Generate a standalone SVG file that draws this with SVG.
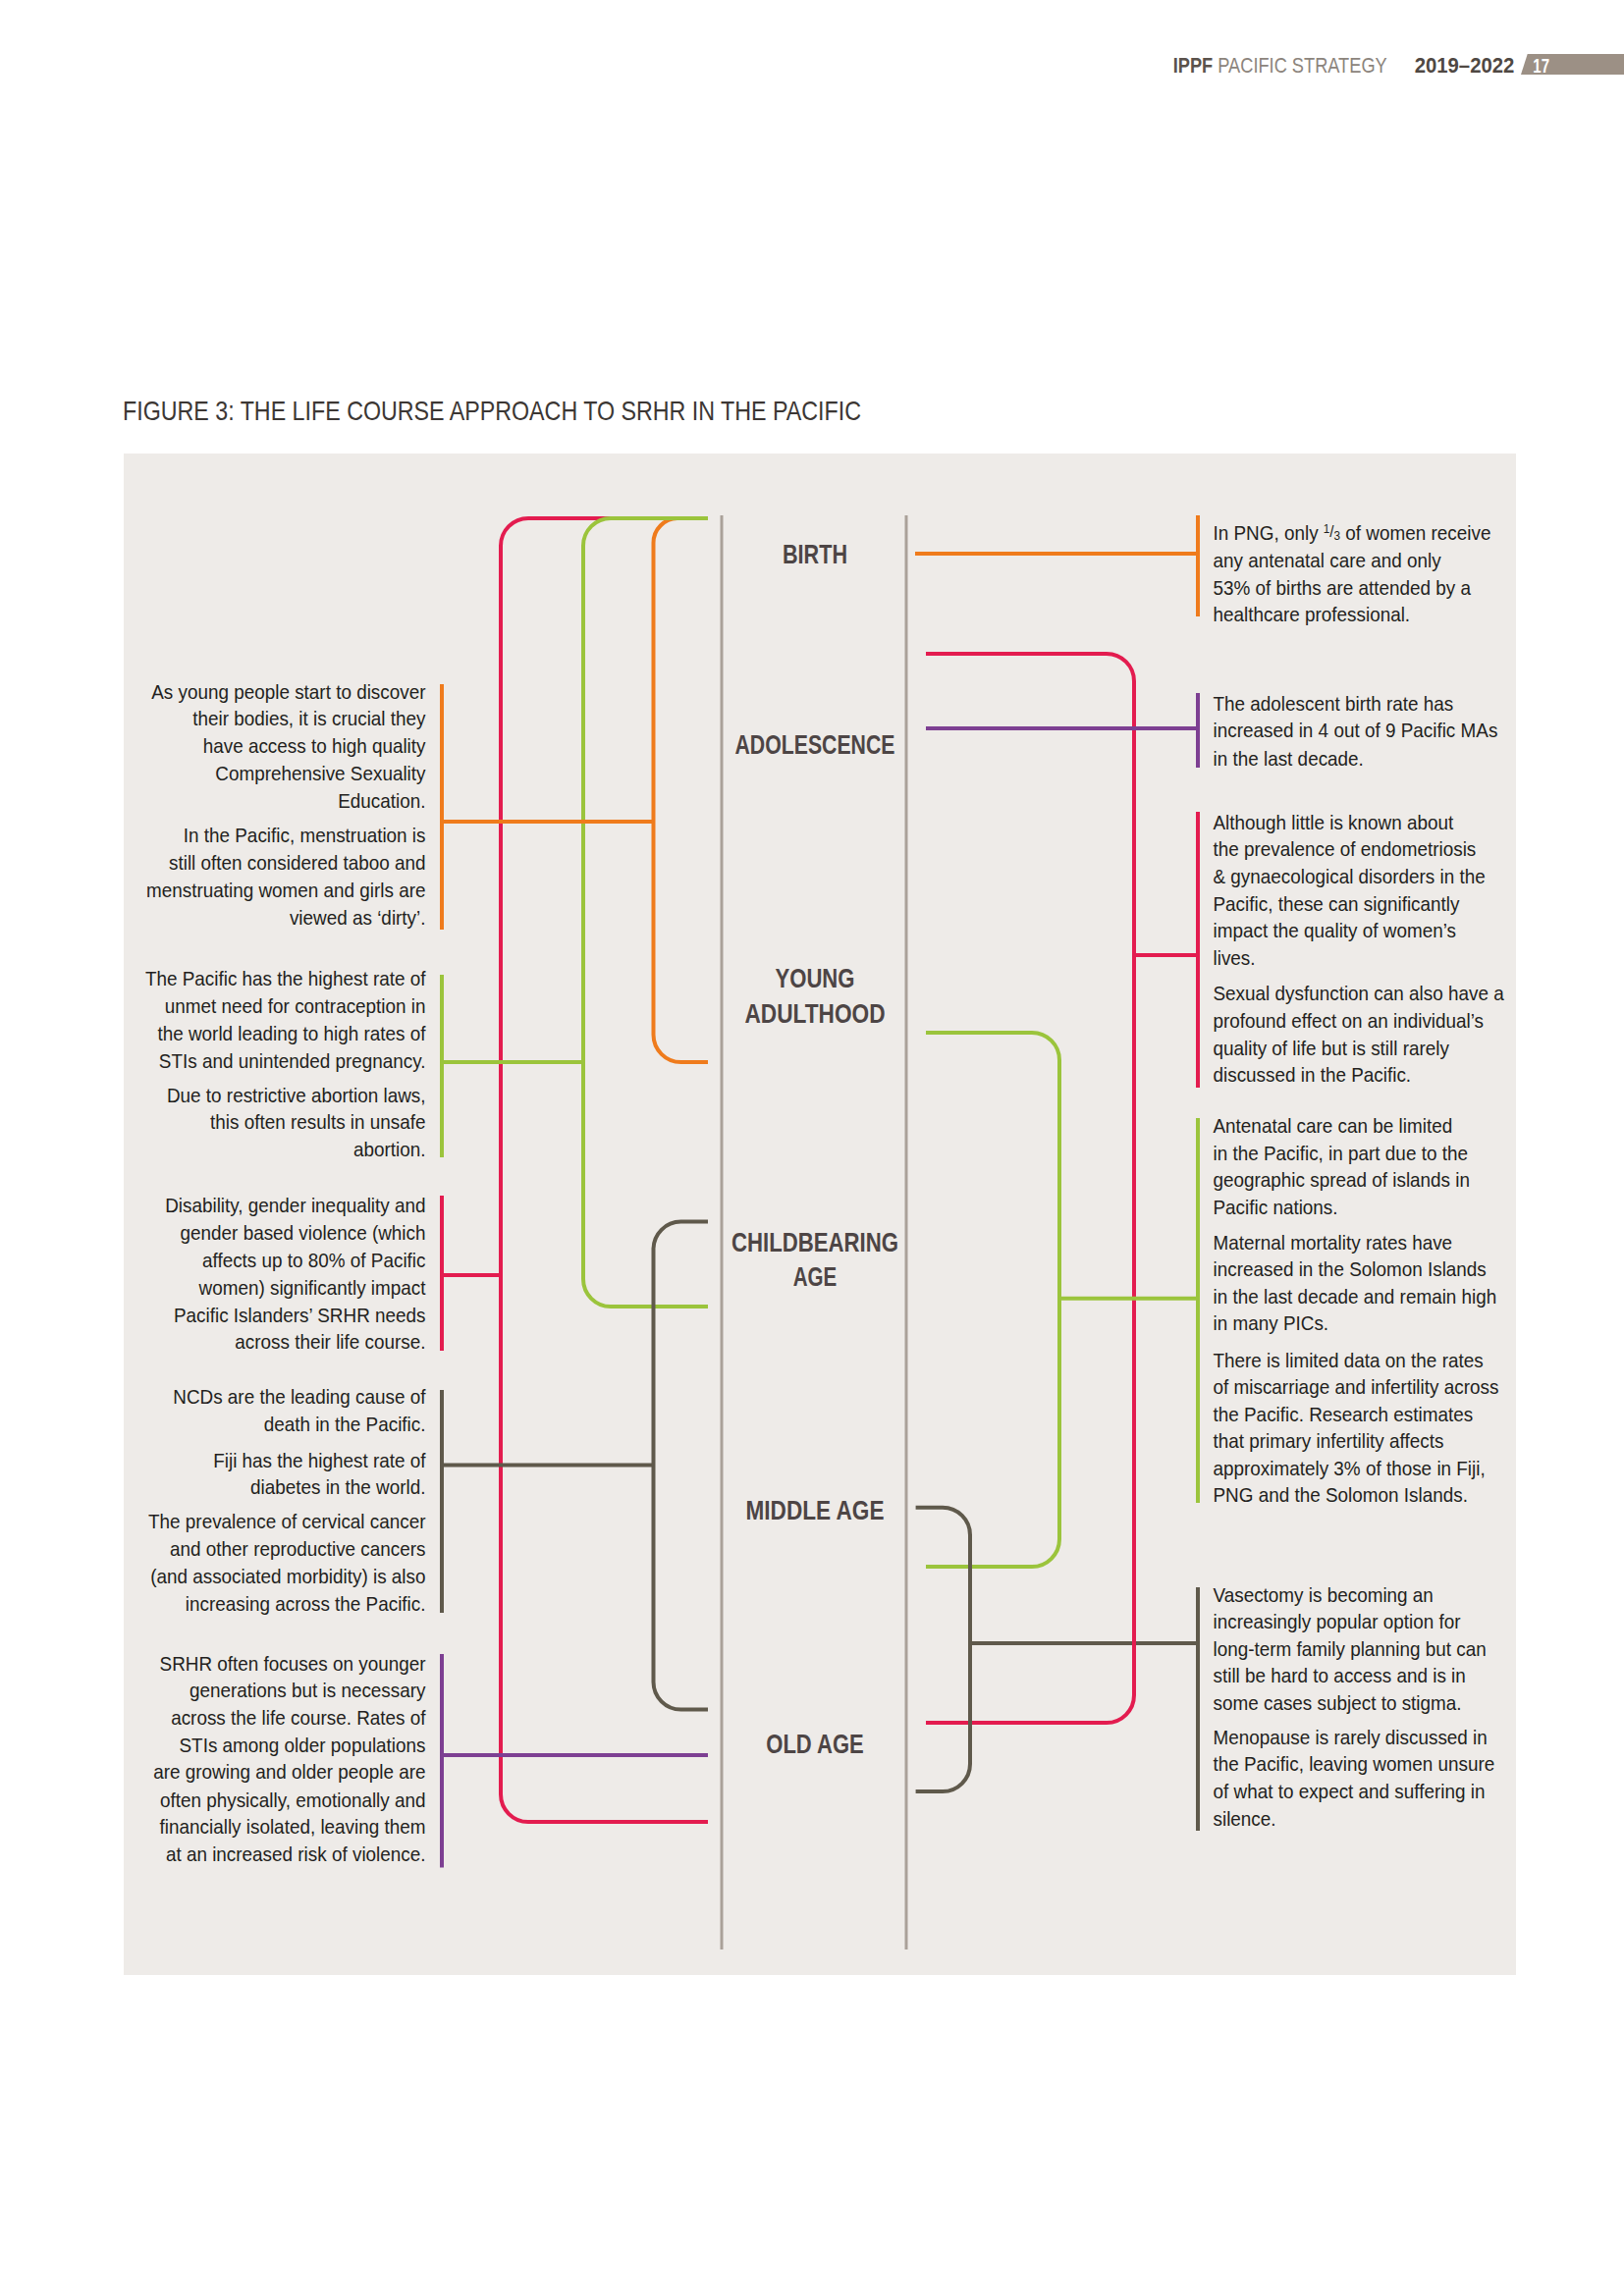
<svg xmlns="http://www.w3.org/2000/svg" width="1654" height="2339" viewBox="0 0 1654 2339">
<style>
.body{font-family:"Liberation Sans",Arial,sans-serif;font-size:21px;fill:#231f20}
.l{text-anchor:end}
.lab{font-family:"Liberation Sans",Arial,sans-serif;font-size:28px;font-weight:bold;fill:#4d4545;text-anchor:middle}
.ln{fill:none;stroke-width:4;stroke-linecap:butt}
.o{stroke:#ef7b1c}.r{stroke:#e31c4f}.g{stroke:#9bc43c}.p{stroke:#7d3f92}.d{stroke:#5f594b}
.tl{stroke:#aaa199;stroke-width:3;fill:none}
</style>
<rect width="1654" height="2339" fill="#ffffff"/>
<g id="header">
<text transform="translate(1194.7 74) scale(0.829 1)" font-family="'Liberation Sans',Arial,sans-serif" font-size="22"><tspan font-weight="bold" fill="#5a524c">IPPF</tspan><tspan fill="#8c847c"> PACIFIC STRATEGY</tspan></text>
<text transform="translate(1440.7 74) scale(0.923 1)" font-family="'Liberation Sans',Arial,sans-serif" font-size="22" font-weight="bold" fill="#4f4843">2019–2022</text>
<polygon points="1555.7,55 1654,55 1654,76 1549,76" fill="#9c9085"/>
<text transform="translate(1561.3 74) scale(0.75 1)" font-family="'Liberation Sans',Arial,sans-serif" font-size="20" font-weight="bold" fill="#ffffff">17</text>
</g>
<text id="title" x="125" y="428" font-family="'Liberation Sans',Arial,sans-serif" font-size="28" fill="#3c3734" textLength="752" lengthAdjust="spacingAndGlyphs">FIGURE 3: THE LIFE COURSE APPROACH TO SRHR IN THE PACIFIC</text>
<rect id="panel" x="126" y="462" width="1418" height="1550" fill="#eeebe8"/>
<g id="timeline">
<line class="tl" x1="735" y1="525" x2="735" y2="1986"/>
<line class="tl" x1="923" y1="525" x2="923" y2="1986"/>
</g>
<g id="stage-birth"><text class="lab" x="830" y="574" textLength="66" lengthAdjust="spacingAndGlyphs">BIRTH</text></g>
<g id="stage-adolescence"><text class="lab" x="830" y="768" textLength="163" lengthAdjust="spacingAndGlyphs">ADOLESCENCE</text></g>
<g id="stage-young-adulthood"><text class="lab" x="830" y="1006" textLength="81" lengthAdjust="spacingAndGlyphs">YOUNG</text><text class="lab" x="830" y="1042" textLength="143" lengthAdjust="spacingAndGlyphs">ADULTHOOD</text></g>
<g id="stage-childbearing"><text class="lab" x="830" y="1274.5" textLength="170" lengthAdjust="spacingAndGlyphs">CHILDBEARING</text><text class="lab" x="830" y="1310" textLength="44.5" lengthAdjust="spacingAndGlyphs">AGE</text></g>
<g id="stage-middle-age"><text class="lab" x="830" y="1547.5" textLength="141" lengthAdjust="spacingAndGlyphs">MIDDLE AGE</text></g>
<g id="stage-old-age"><text class="lab" x="830" y="1786" textLength="99.5" lengthAdjust="spacingAndGlyphs">OLD AGE</text></g>
<g id="connectors">
<!-- left side -->
<path class="ln r" d="M721,528 H538 A28,28 0 0 0 510,556 V1828 A28,28 0 0 0 538,1856 H721"/>
<path class="ln o" d="M721,528 H690 A25,25 0 0 0 665.5,553 V1054 A28,28 0 0 0 693.5,1082 H721"/>
<path class="ln g" d="M721,528 H622 A28,28 0 0 0 594,556 V1303 A28,28 0 0 0 622,1331 H721"/>
<path class="ln d" d="M721,1244.6 H693.5 A28,28 0 0 0 665.5,1272.6 V1713.6 A28,28 0 0 0 693.5,1741.6 H721"/>
<line class="ln o" x1="450" y1="837" x2="665.5" y2="837"/>
<line class="ln g" x1="450" y1="1082" x2="594" y2="1082"/>
<line class="ln r" x1="450" y1="1299" x2="510" y2="1299"/>
<line class="ln d" x1="450" y1="1492.5" x2="665.5" y2="1492.5"/>
<line class="ln p" x1="450" y1="1788" x2="721" y2="1788"/>
<line class="ln o" x1="450" y1="697" x2="450" y2="947"/>
<line class="ln g" x1="450" y1="993" x2="450" y2="1179"/>
<line class="ln r" x1="450" y1="1218" x2="450" y2="1376"/>
<line class="ln d" x1="450" y1="1416" x2="450" y2="1643"/>
<line class="ln p" x1="450" y1="1685" x2="450" y2="1902.5"/>
<!-- right side -->
<line class="ln d" x1="988" y1="1674" x2="1220" y2="1674"/>
<path class="ln r" d="M943,666 H1127 A28,28 0 0 1 1155,694 V1727 A28,28 0 0 1 1127,1755 H943"/>
<line class="ln r" x1="1155" y1="973" x2="1220" y2="973"/>
<path class="ln g" d="M943,1052 H1051 A28,28 0 0 1 1079,1080 V1568 A28,28 0 0 1 1051,1596 H943"/>
<line class="ln g" x1="1079" y1="1322.7" x2="1220" y2="1322.7"/>
<line class="ln p" x1="943" y1="742" x2="1220" y2="742"/>
<line class="ln o" x1="932" y1="564" x2="1220" y2="564"/>
<path class="ln d" d="M932.6,1535.7 H960 A28,28 0 0 1 988,1563.7 V1797 A28,28 0 0 1 960,1825 H932.6"/>
<line class="ln o" x1="1220" y1="525" x2="1220" y2="628"/>
<line class="ln p" x1="1220" y1="706" x2="1220" y2="782"/>
<line class="ln r" x1="1220" y1="827" x2="1220" y2="1108"/>
<line class="ln g" x1="1220" y1="1139" x2="1220" y2="1531"/>
<line class="ln d" x1="1220" y1="1617" x2="1220" y2="1865"/>
</g>
<g transform="scale(0.9 1)">
<g id="note-left-orange">
<text class="body l" x="481.7" y="712">As young people start to discover</text>
<text class="body l" x="481.7" y="739.5">their bodies, it is crucial they</text>
<text class="body l" x="481.7" y="767.3">have access to high quality</text>
<text class="body l" x="481.7" y="795.5">Comprehensive Sexuality</text>
<text class="body l" x="481.7" y="822.7">Education.</text>
<text class="body l" x="481.7" y="858.4">In the Pacific, menstruation is</text>
<text class="body l" x="481.7" y="886.2">still often considered taboo and</text>
<text class="body l" x="481.7" y="914.4">menstruating women and girls are</text>
<text class="body l" x="481.7" y="942">viewed as ‘dirty’.</text>
</g>
<g id="note-left-green">
<text class="body l" x="481.7" y="1004">The Pacific has the highest rate of</text>
<text class="body l" x="481.7" y="1032">unmet need for contraception in</text>
<text class="body l" x="481.7" y="1060">the world leading to high rates of</text>
<text class="body l" x="481.7" y="1088.5">STIs and unintended pregnancy.</text>
<text class="body l" x="481.7" y="1123">Due to restrictive abortion laws,</text>
<text class="body l" x="481.7" y="1150.5">this often results in unsafe</text>
<text class="body l" x="481.7" y="1178">abortion.</text>
</g>
<g id="note-left-red">
<text class="body l" x="481.7" y="1235.5">Disability, gender inequality and</text>
<text class="body l" x="481.7" y="1263">gender based violence (which</text>
<text class="body l" x="481.7" y="1291">affects up to 80% of Pacific</text>
<text class="body l" x="481.7" y="1319">women) significantly impact</text>
<text class="body l" x="481.7" y="1347">Pacific Islanders’ SRHR needs</text>
<text class="body l" x="481.7" y="1374.5">across their life course.</text>
</g>
<g id="note-left-dark">
<text class="body l" x="481.7" y="1430.5">NCDs are the leading cause of</text>
<text class="body l" x="481.7" y="1458">death in the Pacific.</text>
<text class="body l" x="481.7" y="1495">Fiji has the highest rate of</text>
<text class="body l" x="481.7" y="1522">diabetes in the world.</text>
<text class="body l" x="481.7" y="1557">The prevalence of cervical cancer</text>
<text class="body l" x="481.7" y="1585">and other reproductive cancers</text>
<text class="body l" x="481.7" y="1613">(and associated morbidity) is also</text>
<text class="body l" x="481.7" y="1641">increasing across the Pacific.</text>
</g>
<g id="note-left-purple">
<text class="body l" x="481.7" y="1701.6">SRHR often focuses on younger</text>
<text class="body l" x="481.7" y="1729">generations but is necessary</text>
<text class="body l" x="481.7" y="1757">across the life course. Rates of</text>
<text class="body l" x="481.7" y="1785">STIs among older populations</text>
<text class="body l" x="481.7" y="1812.5">are growing and older people are</text>
<text class="body l" x="481.7" y="1841">often physically, emotionally and</text>
<text class="body l" x="481.7" y="1868">financially isolated, leaving them</text>
<text class="body l" x="481.7" y="1896">at an increased risk of violence.</text>
</g>
<g id="note-right-orange">
<text class="body" x="1372.8" y="550">In PNG, only <tspan font-size="13" dy="-7">1</tspan><tspan font-size="17" dy="4">/</tspan><tspan font-size="13" dy="3">3</tspan> of women receive</text>
<text class="body" x="1372.8" y="578">any antenatal care and only</text>
<text class="body" x="1372.8" y="606">53% of births are attended by a</text>
<text class="body" x="1372.8" y="633">healthcare professional.</text>
</g>
<g id="note-right-purple">
<text class="body" x="1372.8" y="724">The adolescent birth rate has</text>
<text class="body" x="1372.8" y="751">increased in 4 out of 9 Pacific MAs</text>
<text class="body" x="1372.8" y="780">in the last decade.</text>
</g>
<g id="note-right-red">
<text class="body" x="1372.8" y="845">Although little is known about</text>
<text class="body" x="1372.8" y="872">the prevalence of endometriosis</text>
<text class="body" x="1372.8" y="900">&amp; gynaecological disorders in the</text>
<text class="body" x="1372.8" y="928">Pacific, these can significantly</text>
<text class="body" x="1372.8" y="955">impact the quality of women’s</text>
<text class="body" x="1372.8" y="983">lives.</text>
<text class="body" x="1372.8" y="1019">Sexual dysfunction can also have a</text>
<text class="body" x="1372.8" y="1047">profound effect on an individual’s</text>
<text class="body" x="1372.8" y="1075">quality of life but is still rarely</text>
<text class="body" x="1372.8" y="1102">discussed in the Pacific.</text>
</g>
<g id="note-right-green">
<text class="body" x="1372.8" y="1154">Antenatal care can be limited</text>
<text class="body" x="1372.8" y="1182">in the Pacific, in part due to the</text>
<text class="body" x="1372.8" y="1209">geographic spread of islands in</text>
<text class="body" x="1372.8" y="1237">Pacific nations.</text>
<text class="body" x="1372.8" y="1273">Maternal mortality rates have</text>
<text class="body" x="1372.8" y="1300">increased in the Solomon Islands</text>
<text class="body" x="1372.8" y="1328">in the last decade and remain high</text>
<text class="body" x="1372.8" y="1355">in many PICs.</text>
<text class="body" x="1372.8" y="1393">There is limited data on the rates</text>
<text class="body" x="1372.8" y="1420">of miscarriage and infertility across</text>
<text class="body" x="1372.8" y="1448">the Pacific. Research estimates</text>
<text class="body" x="1372.8" y="1475">that primary infertility affects</text>
<text class="body" x="1372.8" y="1503">approximately 3% of those in Fiji,</text>
<text class="body" x="1372.8" y="1530">PNG and the Solomon Islands.</text>
</g>
<g id="note-right-dark">
<text class="body" x="1372.8" y="1631.7">Vasectomy is becoming an</text>
<text class="body" x="1372.8" y="1659">increasingly popular option for</text>
<text class="body" x="1372.8" y="1686.7">long-term family planning but can</text>
<text class="body" x="1372.8" y="1714">still be hard to access and is in</text>
<text class="body" x="1372.8" y="1741.7">some cases subject to stigma.</text>
<text class="body" x="1372.8" y="1776.7">Menopause is rarely discussed in</text>
<text class="body" x="1372.8" y="1804">the Pacific, leaving women unsure</text>
<text class="body" x="1372.8" y="1832">of what to expect and suffering in</text>
<text class="body" x="1372.8" y="1860">silence.</text>
</g>
</g>
</svg>
